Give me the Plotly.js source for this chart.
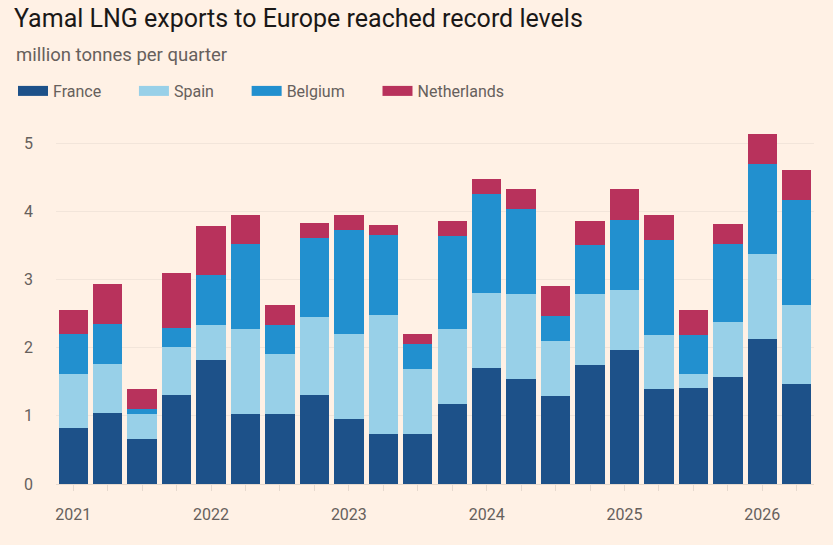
<!DOCTYPE html>
<html>
<head>
<meta charset="utf-8">
<script src="https://cdn.plot.ly/plotly-3.0.1.min.js"></script>
<style>
  html, body { margin: 0; padding: 0; background: #fff1e5; }
  #chart { width: 833px; height: 545px; }
</style>
</head>
<body>
<div id="chart"></div>
<script>
const quarters = [
    '2021 Q1', '2021 Q2', '2021 Q3', '2021 Q4',
    '2022 Q1', '2022 Q2', '2022 Q3', '2022 Q4',
    '2023 Q1', '2023 Q2', '2023 Q3', '2023 Q4',
    '2024 Q1', '2024 Q2', '2024 Q3', '2024 Q4',
    '2025 Q1', '2025 Q2', '2025 Q3', '2025 Q4',
    '2026 Q1', '2026 Q2'
];

// million tonnes per quarter
const france      = [0.82, 1.04, 0.66, 1.30, 1.82, 1.03, 1.03, 1.31, 0.96, 0.74, 0.74,
                     1.18, 1.70, 1.54, 1.29, 1.75, 1.97, 1.39, 1.41, 1.57, 2.13, 1.46];
const spain       = [0.79, 0.72, 0.37, 0.71, 0.51, 1.24, 0.88, 1.14, 1.24, 1.74, 0.95,
                     1.09, 1.10, 1.25, 0.80, 1.03, 0.88, 0.80, 0.21, 0.80, 1.24, 1.17];
const belgium     = [0.59, 0.59, 0.07, 0.28, 0.73, 1.25, 0.42, 1.16, 1.53, 1.17, 0.37,
                     1.37, 1.45, 1.24, 0.37, 0.72, 1.02, 1.39, 0.57, 1.15, 1.32, 1.54];
const netherlands = [0.35, 0.58, 0.30, 0.80, 0.72, 0.42, 0.29, 0.22, 0.22, 0.15, 0.14,
                     0.22, 0.22, 0.30, 0.44, 0.36, 0.45, 0.36, 0.36, 0.30, 0.44, 0.43];

const colors = {
    France: '#1d5189',
    Spain: '#98d0e8',
    Belgium: '#2290cf',
    Netherlands: '#b8325c'
};

const series = [
    ['France', france],
    ['Spain', spain],
    ['Belgium', belgium],
    ['Netherlands', netherlands]
];

const W = 833, H = 545;

const data = [];
series.forEach(([name, values]) => {
    data.push({
        type: 'bar',
        name: name,
        x: quarters,
        y: values,
        marker: { color: colors[name] },
        showlegend: false,
        hovertemplate: name + ' %{x}: %{y}<extra></extra>'
    });
});
// legend-only entries, drawn as wide swatches; trailing nbsp widen the gap between items
const pad = '\u00a0'.repeat(7);
series.forEach(([name], i) => {
    data.push({
        type: 'scatter',
        mode: 'lines',
        name: i < series.length - 1 ? name + pad : name,
        x: [null],
        y: [null],
        line: { color: colors[name], width: 12 },
        hoverinfo: 'skip'
    });
});

const tickText = quarters.map(q => q.endsWith('Q1') ? q.slice(0, 4) : '');

const layout = {
    width: W,
    height: H,
    paper_bgcolor: '#fff1e5',
    plot_bgcolor: '#fff1e5',
    barmode: 'stack',
    bargap: 0.15,
    font: { family: 'Roboto, Arial', color: '#66605c', size: 16 },
    title: {
        text: 'Yamal LNG exports to Europe reached record levels',
        font: { family: 'Roboto, Arial', color: '#1a1817', size: 25 },
        x: 14 / W,
        xref: 'container',
        xanchor: 'left',
        y: 1 - 18 / H,
        yref: 'container',
        yanchor: 'middle'
    },
    annotations: [{
        text: 'million tonnes per quarter',
        xref: 'paper',
        yref: 'paper',
        x: 0,
        y: 1,
        xanchor: 'left',
        yanchor: 'middle',
        xshift: -42,
        yshift: 71,
        showarrow: false,
        font: { size: 18.5, color: '#66605c' }
    }],
    legend: {
        orientation: 'h',
        x: 13 / W,
        xref: 'container',
        xanchor: 'left',
        y: 1 - 91 / H,
        yref: 'container',
        yanchor: 'middle',
        font: { size: 16, color: '#66605c' },
        bgcolor: 'rgba(0,0,0,0)',
        itemwidth: 30,
        traceorder: 'normal'
    },
    margin: { l: 56, r: 19, t: 126, b: 61, pad: 0 },
    xaxis: {
        type: 'category',
        tickvals: quarters,
        ticktext: tickText,
        ticks: 'outside',
        ticklen: 6,
        tickcolor: '#e6d9ce',
        ticklabelstandoff: 10,
        tickfont: { size: 16, color: '#66605c' },
        showgrid: false,
        showline: false,
        zeroline: false,
        range: [-0.5, 21.5],
        fixedrange: true
    },
    yaxis: {
        range: [0, 5.25],
        tickvals: [0, 1, 2, 3, 4, 5],
        showgrid: true,
        gridcolor: '#f2e5da',
        gridwidth: 1,
        zeroline: true,
        zerolinecolor: '#e6d9ce',
        zerolinewidth: 1,
        ticks: '',
        ticklabelstandoff: 22,
        tickfont: { size: 16, color: '#66605c' },
        fixedrange: true
    }
};

const config = {
    responsive: false,
    displaylogo: false,
    displayModeBar: false
};

Plotly.newPlot('chart', data, layout, config);
</script>
</body>
</html>
